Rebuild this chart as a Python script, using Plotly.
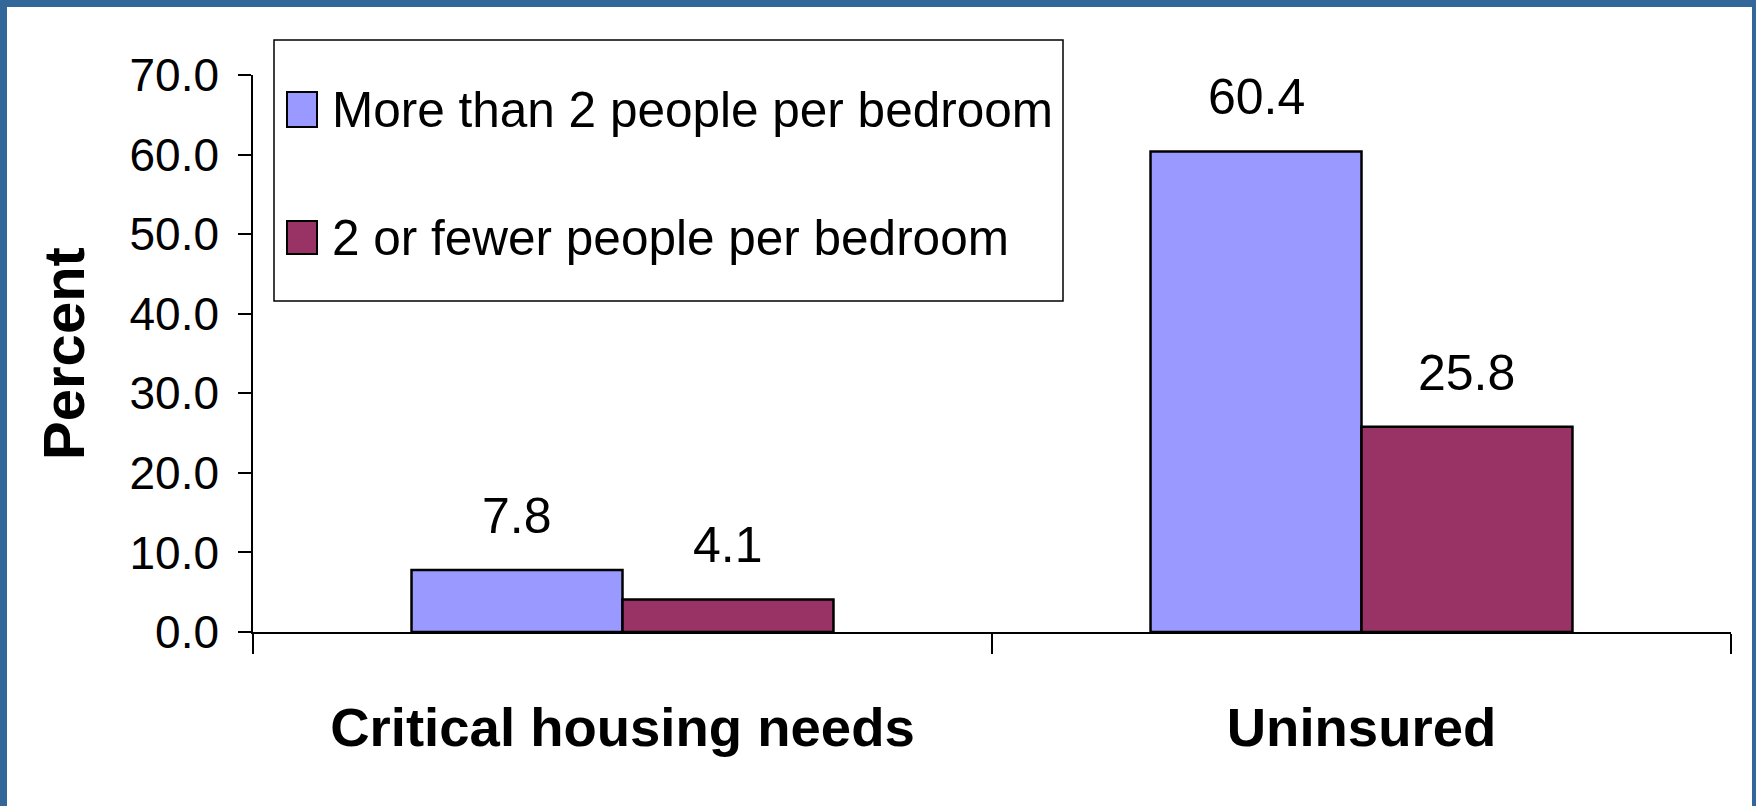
import plotly.graph_objects as go

# Data
categories = ["Critical housing needs", "Uninsured"]
crowded = [7.8, 60.4]        # More than 2 people per bedroom
not_crowded = [4.1, 25.8]    # 2 or fewer people per bedroom
series_names = ["More than 2 people per bedroom", "2 or fewer people per bedroom"]
y_ticks = [0, 10, 20, 30, 40, 50, 60, 70]

COL_BLUE = "#9999FF"
COL_PLUM = "#993366"
FRAME = "#336699"
FONT = "Liberation Sans, Arial, sans-serif"

W, H = 1756, 806
ML, MR, MT, MB = 253, 25, 75, 174
PW, PH = W - ML - MR, H - MT - MB


def px_x(px):
    return (px - ML) / PW


def px_y(py):
    return (H - MB - py) / PH


fig = go.Figure()
for name, vals, col in [(series_names[0], crowded, COL_BLUE),
                        (series_names[1], not_crowded, COL_PLUM)]:
    fig.add_trace(go.Bar(
        x=categories, y=vals, name=name,
        marker=dict(color=col, line=dict(color="black", width=2.5)),
        showlegend=False,
    ))

# value labels above each bar
bar_px = PW / len(categories) * (1 - 0.429) / 2
annotations = []
for vals, shift in [(crowded, -bar_px / 2), (not_crowded, bar_px / 2)]:
    for cat, v in zip(categories, vals):
        annotations.append(dict(
            x=cat, y=v, xref="x", yref="y", text=f"{v:.1f}",
            showarrow=False, xshift=shift, yshift=24, yanchor="bottom",
            font=dict(family=FONT, size=50, color="black"),
        ))

# legend box drawn by hand
shapes = [
    # white page inside the blue frame
    dict(type="rect", xref="paper", yref="paper", layer="below",
         x0=px_x(7), x1=px_x(1752), y0=px_y(820), y1=px_y(7),
         fillcolor="white", line=dict(width=0)),
    dict(type="rect", xref="paper", yref="paper",
         x0=px_x(274), x1=px_x(1063), y0=px_y(301), y1=px_y(40),
         fillcolor="white", line=dict(color="black", width=1.5)),
]
for (ytop, ybot), col, name in [((92, 127), COL_BLUE, series_names[0]),
                                ((221, 254), COL_PLUM, series_names[1])]:
    shapes.append(dict(type="rect", xref="paper", yref="paper",
                       x0=px_x(287), x1=px_x(317), y0=px_y(ybot), y1=px_y(ytop),
                       fillcolor=col, line=dict(color="black", width=2)))
    annotations.append(dict(
        x=px_x(330), y=px_y((ytop + ybot) / 2), xref="paper", yref="paper",
        text=name, showarrow=False, xanchor="left", yanchor="middle",
        font=dict(family=FONT, size=49.5, color="black"),
    ))

fig.update_layout(
    width=W, height=H,
    margin=dict(l=ML, r=MR, t=MT, b=MB, pad=0),
    paper_bgcolor=FRAME, plot_bgcolor="white",
    barmode="group", bargap=0.429, bargroupgap=0,
    font=dict(family=FONT, color="black"),
    shapes=shapes, annotations=annotations,
    xaxis=dict(
        type="category", showline=True, linecolor="black", linewidth=1.5,
        ticks="outside", tickson="boundaries", ticklen=20, tickcolor="black",
        tickwidth=1.5, showgrid=False, zeroline=False,
        tickfont=dict(family=FONT, size=54.5, color="black", weight="bold"),
        ticklabelstandoff=47,
    ),
    yaxis=dict(
        range=[0, 70], tickvals=y_ticks, tickformat=".1f",
        showline=True, linecolor="black", linewidth=1.5,
        ticks="outside", ticklen=13, tickcolor="black", tickwidth=1.5,
        showgrid=False, zeroline=False,
        tickfont=dict(family=FONT, size=46, color="black"),
        ticklabelstandoff=10,
        title=dict(text="Percent", standoff=26,
                   font=dict(family=FONT, size=58, color="black", weight="bold")),
    ),
)

fig.write_html("out.html")
